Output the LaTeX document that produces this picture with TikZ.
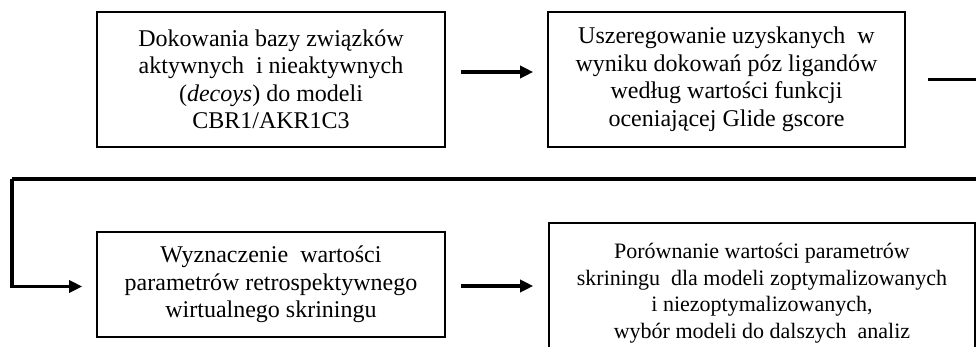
\documentclass[tikz,border=0pt]{standalone}
\usepackage{fontspec}
\setmainfont{Liberation Serif}
\usetikzlibrary{arrows.meta}
\begin{document}
\begin{tikzpicture}[x=1pt,y=1pt,
	box/.style={draw,line width=1.6pt,inner sep=0pt,align=center,
		font=\fontsize{24}{27.5}\selectfont},
	flow/.style={line width=3.4pt,-{Triangle[length=13pt,width=12pt]}},
	link/.style={line width=3.4pt}]
	\useasboundingbox (0,0) rectangle (976,346);
	\clip (0,0) rectangle (976,346);
	\node[box,minimum width=348pt,minimum height=135pt] (b1) at (271,266.5)
		{Dokowania bazy związków\\aktywnych \ i nieaktywnych\\(\textit{decoys}) do modeli\\CBR1/AKR1C3};
	\node[box,minimum width=357pt,minimum height=135pt] (b2) at (726.5,266.5)
		{Uszeregowanie uzyskanych \ w\\wyniku dokowań póz ligandów\\według wartości funkcji\\oceniającej Glide gscore};
	\node[box,minimum width=348pt,minimum height=105pt] (b3) at (271,61.5)
		{Wyznaczenie \ wartości\\parametrów retrospektywnego\\wirtualnego skriningu};
	\node[box,minimum width=426pt,minimum height=140pt,
		font=\fontsize{22}{26.5}\selectfont] (b4) at (762,53)
		{Porównanie wartości parametrów\\skriningu \ dla modeli zoptymalizowanych\\i niezoptymalizowanych,\\wybór modeli do dalszych \ analiz};
	\coordinate (turnR) at (990,167);
	\coordinate (turnL) at (12,167);
	\draw[flow,shorten <=15pt,shorten >=14pt] ([yshift=7.5pt]b1.east) -- ([yshift=7.5pt]b2.west);
	\draw[link,shorten <=22pt] (b2.east) -- (b2.east -| turnR) -- (turnR) -- (turnL);
	\draw[flow,shorten >=14pt] (turnL) |- ([yshift=-2pt]b3.west);
	\draw[flow,shorten <=15pt,shorten >=15pt] ([yshift=-1.5pt]b3.east) -- ([yshift=-1.5pt]b3.east -| b4.west);
\end{tikzpicture}
\end{document}
